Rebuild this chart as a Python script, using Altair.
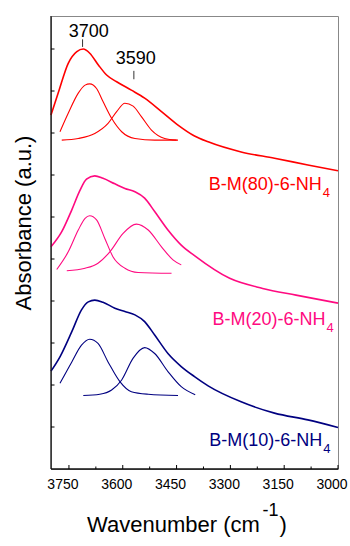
import altair as alt
import pandas as pd

FONT = "Liberation Sans"

# ---------------- data ----------------
series_names = ["B-M(80)-6-NH4", "B-M(20)-6-NH4", "B-M(10)-6-NH4"]
series_colors = ["#ff0000", "#ff0a80", "#000080"]

red_main_x = [3800, 3780, 3752, 3728, 3710, 3692, 3668, 3645, 3617, 3576, 3539, 3492, 3446, 3400, 3362, 3270, 3177, 3084, 3000]
red_main_y = [8.43, 8.95, 9.66, 9.94, 10.0, 9.90, 9.62, 9.38, 9.22, 9.02, 8.83, 8.51, 8.19, 7.93, 7.79, 7.55, 7.40, 7.24, 7.10]
red_p1_x = [3775, 3752, 3724, 3705, 3692, 3673, 3655, 3631, 3603, 3566, 3511, 3446]
red_p1_y = [8.03, 8.47, 8.95, 9.14, 9.17, 9.06, 8.75, 8.35, 8.03, 7.87, 7.83, 7.83]
red_p2_x = [3770, 3724, 3678, 3641, 3617, 3594, 3571, 3548, 3520, 3483, 3450]
red_p2_y = [7.83, 7.87, 7.99, 8.23, 8.51, 8.71, 8.64, 8.39, 8.07, 7.87, 7.83]

pink_main_x = [3800, 3770, 3742, 3719, 3701, 3678, 3655, 3622, 3594, 3566, 3539, 3511, 3474, 3437, 3400, 3302, 3210, 3117, 3000]
pink_main_y = [5.29, 5.65, 6.17, 6.64, 6.90, 6.98, 6.92, 6.79, 6.68, 6.60, 6.45, 6.13, 5.69, 5.33, 5.08, 4.54, 4.30, 4.14, 3.95]
pink_p1_x = [3784, 3752, 3724, 3705, 3692, 3673, 3650, 3627, 3594, 3557, 3464]
pink_p1_y = [4.75, 5.17, 5.69, 5.97, 6.03, 5.93, 5.49, 5.05, 4.78, 4.68, 4.66]
pink_p2_x = [3756, 3705, 3669, 3636, 3599, 3562, 3529, 3492, 3460, 3437]
pink_p2_y = [4.72, 4.78, 4.90, 5.17, 5.61, 5.83, 5.69, 5.29, 4.98, 4.86]

navy_main_x = [3800, 3775, 3742, 3715, 3696, 3678, 3655, 3622, 3594, 3566, 3539, 3511, 3474, 3437, 3400, 3362, 3270, 3177, 3084, 3000]
navy_main_y = [2.33, 2.67, 3.27, 3.79, 3.98, 4.02, 3.97, 3.83, 3.75, 3.67, 3.51, 3.19, 2.75, 2.44, 2.20, 1.98, 1.60, 1.33, 1.17, 0.99]
navy_p1_x = [3775, 3742, 3715, 3692, 3669, 3641, 3608, 3576, 3529, 3446]
navy_p1_y = [2.04, 2.55, 2.95, 3.09, 2.99, 2.55, 2.08, 1.84, 1.78, 1.75]
navy_p2_x = [3710, 3664, 3631, 3603, 3571, 3539, 3511, 3474, 3437, 3398]
navy_p2_y = [1.75, 1.78, 1.88, 2.12, 2.64, 2.89, 2.75, 2.32, 1.96, 1.77]

# peak annotations
ann_text = ["3700", "3590"]
ann_x = [3695, 3564]
ann_y = [10.29, 9.64]
ann_tick_x = [3712, 3569]
ann_tick_y1 = [10.23, 9.48]
ann_tick_y2 = [10.05, 9.28]

# sample labels
label_main = ["B-M(80)-6-NH", "B-M(20)-6-NH", "B-M(10)-6-NH"]
label_sub = ["4", "4", "4"]
label_x = [3045, 3035, 3044]
label_y = [6.64, 3.43, 0.55]
label_sub_y = [6.48, 3.26, 0.39]

# axes
x_major = [3750, 3600, 3450, 3300, 3150, 3000]
x_major_labels = ["3750", "3600", "3450", "3300", "3150", "3000"]
x_minor = [3675, 3525, 3375, 3225, 3075]
y_ticks = [1, 2, 3, 4, 5, 6, 7, 8, 9, 10]
x_title_parts = ["Wavenumber (cm", "-1", ")"]
y_title = "Absorbance (a.u.)"

# ---------------- build tables ----------------
rows = []
def add(series, kind, cid, xs, ys):
    for a, b in zip(xs, ys):
        rows.append({"series": series, "kind": kind, "curve": cid, "wn": a, "ab": b})

add(series_names[0], "main", "r0", red_main_x, red_main_y)
add(series_names[0], "peak", "r1", red_p1_x, red_p1_y)
add(series_names[0], "peak", "r2", red_p2_x, red_p2_y)
add(series_names[1], "main", "p0", pink_main_x, pink_main_y)
add(series_names[1], "peak", "p1", pink_p1_x, pink_p1_y)
add(series_names[1], "peak", "p2", pink_p2_x, pink_p2_y)
add(series_names[2], "main", "n0", navy_main_x, navy_main_y)
add(series_names[2], "peak", "n1", navy_p1_x, navy_p1_y)
add(series_names[2], "peak", "n2", navy_p2_x, navy_p2_y)
df = pd.DataFrame(rows)

W, H = 287, 453
xscale = alt.Scale(domain=[3000, 3800], reverse=True, nice=False, zero=False)
yscale = alt.Scale(domain=[0, 10.786], nice=False, zero=False)
cscale = alt.Scale(domain=series_names, range=series_colors)

lines = alt.Chart(df).mark_line(interpolate="monotone").encode(
    x=alt.X("wn:Q", scale=xscale, axis=None),
    y=alt.Y("ab:Q", scale=yscale, axis=None),
    color=alt.Color("series:N", scale=cscale, legend=None),
    strokeWidth=alt.StrokeWidth("kind:N", scale=alt.Scale(domain=["main", "peak"], range=[1.6, 1.1]), legend=None),
    detail="curve:N",
)

one = pd.DataFrame({"a": [0]})
left_dom = alt.Chart(one).mark_rule(color="#111111", strokeWidth=1.3).encode(
    x=alt.value(0), y=alt.value(0), y2=alt.value(H))
bottom_dom = alt.Chart(one).mark_rule(color="#111111", strokeWidth=1.3).encode(
    x=alt.value(0), x2=alt.value(W), y=alt.value(H))

major_df = pd.DataFrame({"v": x_major, "lab": x_major_labels})
major = alt.Chart(major_df).mark_rule(color="black", strokeWidth=1).encode(
    x=alt.X("v:Q", scale=xscale, axis=None), y=alt.value(H), y2=alt.value(H - 4))
major_lab = alt.Chart(major_df).mark_text(align="center", baseline="top", fontSize=14, font=FONT,
                                          color="black", dx=-6).encode(
    x=alt.X("v:Q", scale=xscale, axis=None), y=alt.value(H + 9), text="lab:N")
minor = alt.Chart(pd.DataFrame({"v": x_minor})).mark_rule(color="black", strokeWidth=1).encode(
    x=alt.X("v:Q", scale=xscale, axis=None), y=alt.value(H), y2=alt.value(H - 2.5))
yt = alt.Chart(pd.DataFrame({"v": y_ticks})).mark_rule(color="black", strokeWidth=1).encode(
    y=alt.Y("v:Q", scale=yscale, axis=None), x=alt.value(0), x2=alt.value(3.5))

ann_df = pd.DataFrame({"t": ann_text, "x": ann_x, "y": ann_y,
                       "tx": ann_tick_x, "ty1": ann_tick_y1, "ty2": ann_tick_y2})
ann = alt.Chart(ann_df).mark_text(align="center", baseline="alphabetic", fontSize=18, font=FONT, color="black").encode(
    x=alt.X("x:Q", scale=xscale, axis=None), y=alt.Y("y:Q", scale=yscale, axis=None), text="t:N")
ann_tick = alt.Chart(ann_df).mark_rule(color="#333333", strokeWidth=1).encode(
    x=alt.X("tx:Q", scale=xscale, axis=None), y=alt.Y("ty1:Q", scale=yscale, axis=None), y2="ty2:Q")

lab_df = pd.DataFrame({"series": series_names, "t": label_main, "s": label_sub,
                       "x": label_x, "y": label_y, "ys": label_sub_y})
lab = alt.Chart(lab_df).mark_text(align="right", baseline="alphabetic", fontSize=18, font=FONT).encode(
    x=alt.X("x:Q", scale=xscale, axis=None), y=alt.Y("y:Q", scale=yscale, axis=None), text="t:N",
    color=alt.Color("series:N", scale=cscale, legend=None))
lab_sub = alt.Chart(lab_df).mark_text(align="left", baseline="alphabetic", fontSize=13, font=FONT, dx=1).encode(
    x=alt.X("x:Q", scale=xscale, axis=None), y=alt.Y("ys:Q", scale=yscale, axis=None), text="s:N",
    color=alt.Color("series:N", scale=cscale, legend=None))

tdf = pd.DataFrame({"a": [x_title_parts[0]], "b": [x_title_parts[1]], "c": [x_title_parts[2]], "y": [y_title]})
xt1 = alt.Chart(tdf).mark_text(align="left", baseline="alphabetic", fontSize=22, font=FONT, color="black").encode(
    x=alt.value(36), y=alt.value(515.5), text="a:N")
xt2 = alt.Chart(tdf).mark_text(align="left", baseline="alphabetic", fontSize=18, font=FONT, color="black").encode(
    x=alt.value(211.5), y=alt.value(500), text="b:N")
xt3 = alt.Chart(tdf).mark_text(align="left", baseline="alphabetic", fontSize=22, font=FONT, color="black").encode(
    x=alt.value(228.5), y=alt.value(515.5), text="c:N")
ytitle = alt.Chart(tdf).mark_text(align="center", baseline="middle", angle=270, fontSize=22, font=FONT, color="black").encode(
    x=alt.value(-27), y=alt.value(207), text="y:N")

chart = alt.layer(lines, left_dom, bottom_dom, major, major_lab, minor, yt, ann, ann_tick,
                  lab, lab_sub, xt1, xt2, xt3, ytitle).properties(
    width=W, height=H,
    autosize=alt.AutoSizeParams(type="none"),
    padding={"left": 51, "top": 16, "right": 12, "bottom": 77},
    background="white",
).configure_view(stroke="#888888", strokeWidth=1)

chart.save("out.html", embed_options={"renderer": "svg", "actions": False})
